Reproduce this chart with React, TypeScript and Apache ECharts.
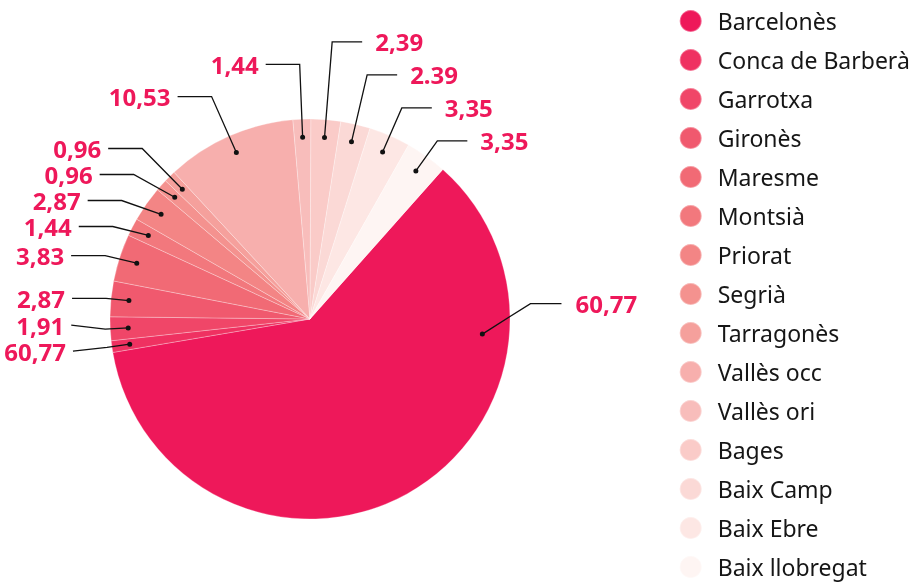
import React, { useEffect, useRef } from 'react';
import * as echarts from 'echarts';

const categories = ['Barcelonès', 'Conca de Barberà', 'Garrotxa', 'Gironès', 'Maresme', 'Montsià', 'Priorat', 'Segrià', 'Tarragonès', 'Vallès occ', 'Vallès ori', 'Bages', 'Baix Camp', 'Baix Ebre', 'Baix llobregat'];
const values = [60.77, 0.94, 1.91, 2.87, 3.83, 1.44, 2.87, 0.96, 0.96, 10.53, 1.44, 2.39, 2.39, 3.35, 3.35];
const valueLabels = ['60,77', '60,77', '1,91', '2,87', '3,83', '1,44', '2,87', '0,96', '0,96', '10,53', '1,44', '2,39', '2.39', '3,35', '3,35'];
const colors = ['#EE185A', '#EF3161', '#F04668', '#F0596E', '#F16A75', '#F2787D', '#F38585', '#F4928F', '#F5A09C', '#F7AFAD', '#F8BDBB', '#FACBC8', '#FBD9D6', '#FDE7E4', '#FEF5F3'];

// layout constants
const CX = 310;
const CY = 319;
const R = 200;
const DOT_R = 182;
const START_DEG = 41.6; // clockwise from 12 o'clock, where the first slice begins
const FONT = 'Noto Sans';
const PINK = '#EE185A';

type Pt = number[];

function spread(items: { i: number; y: number }[], gap: number) {
  items.sort((a, b) => a.y - b.y);
  const clusters: { members: { i: number; y: number }[]; mean: number }[] = [];
  for (const it of items) {
    clusters.push({ members: [it], mean: it.y });
    while (clusters.length > 1) {
      const b = clusters[clusters.length - 1];
      const a = clusters[clusters.length - 2];
      const aEnd = a.mean + (gap * (a.members.length - 1)) / 2;
      const bStart = b.mean - (gap * (b.members.length - 1)) / 2;
      if (bStart - aEnd >= gap) break;
      const members = a.members.concat(b.members);
      const mean = members.reduce((s, m) => s + m.y, 0) / members.length;
      clusters.splice(-2, 2, { members, mean });
    }
  }
  const out: Record<number, number> = {};
  clusters.forEach((c) =>
    c.members.forEach((m, k) => {
      out[m.i] = c.mean + gap * (k - (c.members.length - 1) / 2);
    })
  );
  return out;
}

export default function App() {
  const ref = useRef<HTMLDivElement>(null);
  useEffect(() => {
    if (!ref.current) return;
    const chart = echarts.init(ref.current, undefined, { renderer: 'svg' });
    const rad = (d: number) => (d * Math.PI) / 180;
    const pt = (deg: number, r: number): Pt => [CX + r * Math.sin(rad(deg)), CY - r * Math.cos(rad(deg))];

    const total = values.reduce((s, v) => s + v, 0);
    let acc = 0;
    const mids = values.map((v) => {
      const m = (START_DEG + (360 * (acc + v / 2)) / total) % 360;
      acc += v;
      return m;
    });

    const reach = (deg: number) => 205 + 50 * Math.pow(Math.max(0, Math.cos(rad(deg))), 3);
    const leftItems: { i: number; y: number }[] = [];
    const rightItems: { i: number; y: number }[] = [];
    mids.forEach((m, i) => {
      if (i === 0) return;
      const y = CY - reach(m) * Math.cos(rad(m));
      (Math.sin(rad(m)) < 0 ? leftItems : rightItems).push({ i, y });
    });
    const ys: Record<number, number> = { ...spread(leftItems, 26), ...spread(rightItems, 33) };

    const layout: Record<number, { p1: Pt; p2: Pt; p3: Pt; x: number; y: number; align: string }> = {};
    mids.forEach((m, i) => {
      if (i === 0) {
        // the big slice's label sits at the right of the pie
        const p1 = pt(95, 173);
        const p2 = pt(86, 221);
        const p3 = [p2[0] + 31, p2[1]];
        layout[i] = { p1, p2, p3, x: p3[0] + 14, y: p3[1], align: 'left' };
        return;
      }
      const s = Math.sin(rad(m));
      const c = Math.cos(rad(m));
      const left = s < 0;
      const dir = left ? -1 : 1;
      const y = ys[i];
      const dy = CY - y;
      const p1 = pt(m, DOT_R);
      const flat = Math.abs(c) < 0.2;
      let p2: Pt;
      if (flat) {
        p2 = pt(m, 205);
      } else {
        let t = dy / c;
        if (!(t >= DOT_R + 8)) t = DOT_R + 8;
        t = Math.min(t, 300);
        p2 = pt(m, t);
        const rE = reach(m) + 8;
        if (left && Math.abs(s) > 0.5 && t < rE && Math.abs(dy) < rE) {
          p2 = [CX - Math.sqrt(rE * rE - dy * dy), y];
        }
      }
      const seg = left ? 34 : 30;
      const p3 = [p2[0] + dir * seg, y];
      layout[i] = { p1, p2, p3, x: p3[0] + (left ? -7 : 13), y, align: left ? 'right' : 'left' };
    });

    const common = {
      type: 'pie',
      center: [CX, CY],
      startAngle: 90 - START_DEG,
      clockwise: true,
      silent: true,
      emphasis: { disabled: true, scale: false },
    };
    chart.setOption({
      animation: false,
      legend: {
        orient: 'vertical',
        left: 678.7,
        top: 9,
        padding: 0,
        icon: 'circle',
        itemWidth: 44,
        itemHeight: 22,
        itemGap: 15,
        selectedMode: false,
        data: categories,
        textStyle: { fontFamily: FONT, fontSize: 23, color: '#161616' },
      },
      series: [
        {
          ...common,
          name: 'slices',
          z: 1,
          radius: [0, R],
          label: { show: false },
          labelLine: { show: false },
          itemStyle: { borderColor: 'rgba(255,255,255,0.35)', borderWidth: 0.8 },
          data: categories.map((n, i) => ({ name: n, value: values[i], itemStyle: { color: colors[i] } })),
        },
        {
          ...common,
          name: 'labels',
          z: 3,
          radius: [0, DOT_R],
          itemStyle: { color: 'rgba(0,0,0,0)' },
          label: {
            show: true,
            position: 'outside',
            overflow: 'none',
            formatter: (p: any) => valueLabels[p.dataIndex],
            fontFamily: FONT,
            fontWeight: 'bold',
            fontSize: 24,
            lineHeight: 24,
            color: PINK,
          },
          labelLine: {
            show: true,
            length: 35,
            length2: 30,
            lineStyle: { color: '#111', width: 1.3 },
          },
          labelLayout: (p: any) => {
            const L = layout[p.dataIndex];
            if (!L) return {};
            return {
              x: L.x,
              y: L.y,
              align: L.align,
              verticalAlign: 'middle',
              labelLinePoints: [L.p1, L.p2, L.p3],
            };
          },
          data: categories.map((n, i) => ({ name: n, value: values[i] })),
        },
        {
          ...common,
          name: 'dots',
          z: 4,
          radius: [DOT_R - 20, DOT_R + 20],
          itemStyle: { color: 'rgba(0,0,0,0)' },
          label: {
            show: true,
            position: 'inside',
            formatter: '{d|}',
            rich: { d: { width: 5, height: 5, borderRadius: 2.5, backgroundColor: '#111' } },
          },
          labelLine: { show: false },
          labelLayout: (p: any) => {
            const L = layout[p.dataIndex];
            if (!L) return {};
            return { x: L.p1[0], y: L.p1[1], align: 'center', verticalAlign: 'middle' };
          },
          data: categories.map((n, i) => ({ name: n, value: values[i] })),
        },
      ],
    });
    return () => chart.dispose();
  }, []);
  return <div ref={ref} style={{ position: 'fixed', left: 0, top: 0, width: 915, height: 583 }} />;
}
